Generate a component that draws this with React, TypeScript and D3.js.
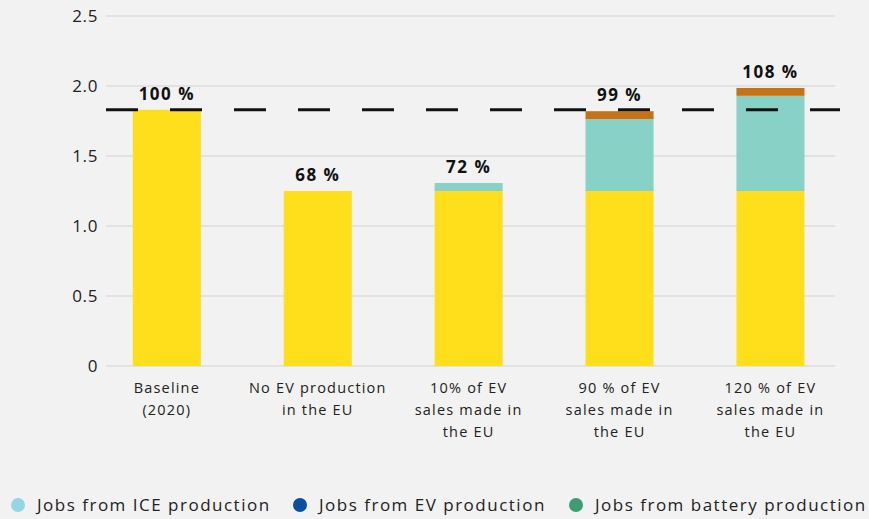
import React from "react";
import * as d3 from "d3";

const categories = [
  ["Baseline", "(2020)"],
  ["No EV production", "in the EU"],
  ["10% of EV", "sales made in", "the EU"],
  ["90 % of EV", "sales made in", "the EU"],
  ["120 % of EV", "sales made in", "the EU"],
];
const yellowVals = [1.83, 1.25, 1.25, 1.25, 1.25];
const tealVals = [0, 0, 0.057, 0.514, 0.68];
const orangeVals = [0, 0, 0, 0.056, 0.056];
const pctLabels = ["100 %", "68 %", "72 %", "99 %", "108 %"];
const baselineValue = 1.83;
const yTicks = [0, 0.5, 1.0, 1.5, 2.0, 2.5];
const yTickLabels = ["0", "0.5", "1.0", "1.5", "2.0", "2.5"];
const legendItems = ["Jobs from ICE production", "Jobs from EV production", "Jobs from battery production"];
const legendColors = ["#94d7e3", "#0b4f9f", "#3d9c72"];

const W = 869, H = 519;
const FONT = "'Open Sans', sans-serif";

export default function App() {
  const y = d3.scaleLinear().domain([0, 2.5]).range([366, 16]);
  const x = d3.scaleBand<number>().domain(d3.range(5)).range([91.4, 845.9]).paddingInner(0.549).paddingOuter(0.2745);
  const bw = x.bandwidth();
  const stackKeys = [
    { vals: yellowVals, color: "#ffdf1b" },
    { vals: tealVals, color: "#88d1c6" },
    { vals: orangeVals, color: "#c57216" },
  ];
  const legendX = [18, 300, 576];
  return (
    <svg width={W} height={H} style={{ position: "absolute", left: 0, top: 0, background: "#f2f2f2" }} fontFamily={FONT}>
      <rect x={0} y={0} width={W} height={H} fill="#f2f2f2" />
      {yTicks.map((t, i) => (
        <g key={i}>
          <line x1={106} x2={835} y1={y(t)} y2={y(t)} stroke="#dcdcdc" strokeWidth={1.5} />
          <text x={98} y={y(t)} dy="0.35em" textAnchor="end" fontSize={17} letterSpacing={0.6} fill="#222">{yTickLabels[i]}</text>
        </g>
      ))}
      {categories.map((c, i) => {
        let acc = 0;
        const x0 = x(i)!;
        const total = yellowVals[i] + tealVals[i] + orangeVals[i];
        return (
          <g key={i}>
            {stackKeys.map((s, k) => {
              const v = s.vals[i];
              const y0 = acc;
              acc += v;
              if (v <= 0) return null;
              return <rect key={k} x={x0} width={bw} y={y(acc)} height={y(y0) - y(acc)} fill={s.color} />;
            })}
            <text x={x0 + bw / 2} y={y(total) - 10} textAnchor="middle" fontSize={17} fontWeight={700} letterSpacing={1.5} fill="#111">{pctLabels[i]}</text>
            {c.map((line, j) => (
              <text key={j} x={x0 + bw / 2} y={393 + j * 22} textAnchor="middle" fontSize={14.5} letterSpacing={1.2} fill="#222">{line}</text>
            ))}
          </g>
        );
      })}
      <line x1={106} x2={840} y1={y(baselineValue)} y2={y(baselineValue)} stroke="#111" strokeWidth={3} strokeDasharray="32 32" />
      {legendItems.map((l, i) => (
        <g key={i}>
          <circle cx={legendX[i]} cy={505} r={7} fill={legendColors[i]} />
          <text x={legendX[i] + 19} y={505} dy="0.35em" fontSize={17} letterSpacing={1.5} fill="#222">{l}</text>
        </g>
      ))}
    </svg>
  );
}
